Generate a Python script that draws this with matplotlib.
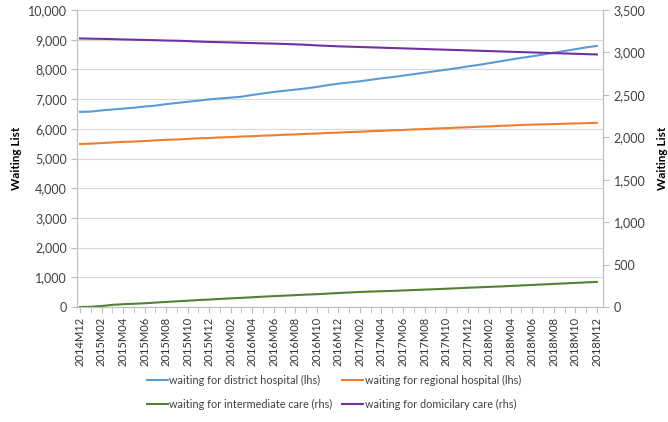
import matplotlib
matplotlib.use("Agg")
import matplotlib.pyplot as plt
from matplotlib.ticker import FuncFormatter, MultipleLocator

# months 2014M12 .. 2018M12
months = [f"{y}M{m:02d}" for y, m in [(2014, 12)] + [(yy, mm) for yy in range(2015, 2019) for mm in range(1, 13)]]

district = [6570, 6580, 6620, 6650, 6680, 6710, 6750, 6780, 6830, 6870,
            6910, 6950, 6990, 7020, 7050, 7080, 7140, 7190, 7240, 7280,
            7320, 7360, 7410, 7470, 7520, 7560, 7600, 7650, 7700, 7740,
            7790, 7840, 7890, 7940, 7990, 8040, 8100, 8150, 8210, 8270,
            8330, 8390, 8440, 8500, 8560, 8620, 8680, 8740, 8790]
regional = [5490, 5500, 5520, 5540, 5560, 5570, 5590, 5610, 5630, 5640,
            5660, 5680, 5690, 5710, 5720, 5740, 5750, 5770, 5780, 5800,
            5810, 5830, 5840, 5860, 5870, 5890, 5900, 5920, 5930, 5950,
            5960, 5980, 5990, 6010, 6020, 6040, 6050, 6070, 6080, 6100,
            6110, 6130, 6140, 6150, 6160, 6170, 6180, 6190, 6200]
intermediate = [0, 3, 12, 25, 33, 38, 44, 52, 60, 67,
                74, 82, 88, 95, 102, 108, 115, 122, 128, 134,
                140, 146, 151, 158, 165, 171, 177, 182, 186, 190,
                195, 200, 205, 210, 215, 221, 227, 232, 237, 242,
                248, 254, 260, 266, 272, 278, 284, 290, 296]
domiciliary = [3165, 3162, 3160, 3157, 3153, 3150, 3147, 3144, 3140, 3138,
               3134, 3128, 3124, 3121, 3118, 3114, 3110, 3107, 3104, 3100,
               3095, 3090, 3083, 3077, 3072, 3068, 3064, 3060, 3056, 3052,
               3048, 3044, 3040, 3036, 3032, 3028, 3024, 3020, 3016, 3012,
               3008, 3004, 3000, 2996, 2992, 2988, 2984, 2980, 2976]

labels = [
    "waiting for district hospital (lhs)",
    "waiting for regional hospital (lhs)",
    "waiting for intermediate care (rhs)",
    "waiting for domicilary care (rhs)",
]
colors = ["#5B9BD5", "#ED7D31", "#548235", "#7030A0"]

plt.rcParams["font.family"] = ["Lato", "DejaVu Sans"]
axis_gray = "#BFBFBF"
text_col = "#404040"

fig = plt.figure(figsize=(6.68, 4.22), dpi=100)
ax = fig.add_axes([0.1157, 0.2725, 0.7874, 0.7038])
ax2 = ax.twinx()

x = list(range(len(months)))
l1, = ax.plot(x, district, color=colors[0], lw=1.5)
l2, = ax.plot(x, regional, color=colors[1], lw=1.5)
l3, = ax2.plot(x, intermediate, color=colors[2], lw=1.5)
l4, = ax2.plot(x, domiciliary, color=colors[3], lw=1.5)

ax.set_xlim(-0.25, len(months) - 0.4)
ax.set_ylim(0, 10000)
ax2.set_ylim(0, 3500)
ax.yaxis.set_major_locator(MultipleLocator(1000))
ax2.yaxis.set_major_locator(MultipleLocator(500))
fmt = FuncFormatter(lambda v, p: f"{int(v):,}")
ax.yaxis.set_major_formatter(fmt)
ax2.yaxis.set_major_formatter(fmt)

ax.grid(axis="y", color="#D9D9D9", lw=0.8)
ax.set_axisbelow(True)

ax.set_xticks(x[::2])
ax.set_xticklabels(months[::2], rotation=90, fontsize=8, color="#333333")
ax.set_xticks(x, minor=True)
ax.tick_params(axis="x", which="major", length=4, color=axis_gray, pad=3)
ax.tick_params(axis="x", which="minor", length=4, color=axis_gray)

for a in (ax, ax2):
    a.spines["top"].set_visible(False)
    for s in ("left", "right", "bottom"):
        a.spines[s].set_color(axis_gray)
ax.tick_params(axis="y", length=4, color=axis_gray, labelsize=9, labelcolor=text_col)
ax2.tick_params(axis="y", length=4, color=axis_gray, labelsize=9, labelcolor=text_col)

ax.set_ylabel("Waiting List", fontsize=8.5, fontweight="bold", color="black", labelpad=4)
ax2.set_ylabel("Waiting List", fontsize=8.5, fontweight="bold", color="black", labelpad=8)

fig.legend([l1, l3, l2, l4], [labels[0], labels[2], labels[1], labels[3]],
           loc="lower center", bbox_to_anchor=(0.5, 0.005), ncol=2, frameon=False,
           fontsize=7.8, handlelength=1.9, handletextpad=0.15, columnspacing=0.9,
           labelspacing=1.2, labelcolor=text_col)

fig.savefig("out.png", dpi=100)
